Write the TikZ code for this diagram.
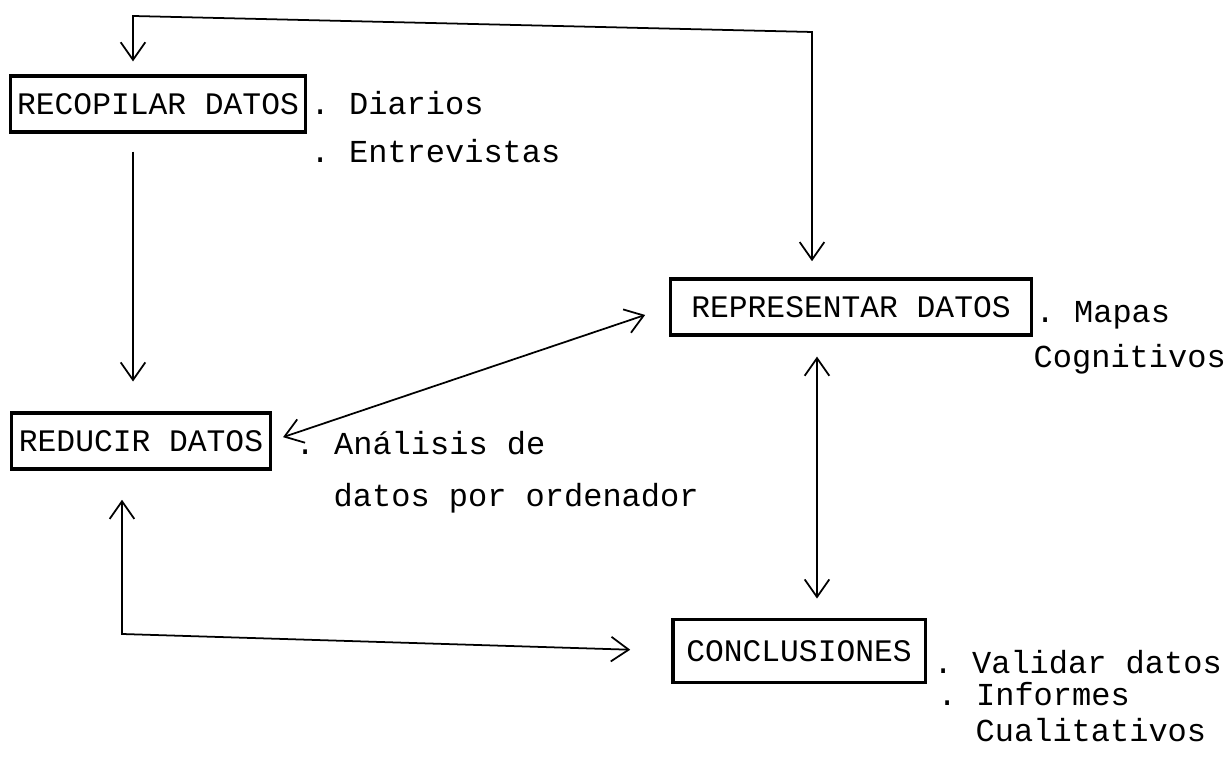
\documentclass[tikz,border=0pt]{standalone}
\usepackage{fontspec}
\setmonofont{Liberation Mono}
\usetikzlibrary{arrows.meta}

\tikzset{
    etapa/.style={draw, line width=0.9pt, inner xsep=2pt, minimum height=0.56cm,
        font=\ttfamily\fontsize{8.9}{10}\selectfont},
    nota/.style={anchor=base west, inner sep=0pt,
        font=\ttfamily\fontsize{9.1}{11}\selectfont},
    flecha/.style={line width=0.5pt, {Straight Barb[length=5pt,width=7pt]}-{Straight Barb[length=5pt,width=7pt]}}
}

\begin{document}
\begin{tikzpicture}[x=0.01cm, y=-0.01cm]
    \useasboundingbox[fill=white] (0,0) rectangle (1228,765);

    % etapas
    \node[etapa] (recop)  at (158,104) {RECOPILAR DATOS};
    \node[etapa] (reduc)  at (141,441) {REDUCIR DATOS};
    \node[etapa, minimum width=3.61cm] (repres) at (851,307) {REPRESENTAR DATOS};
    \node[etapa, minimum width=2.52cm, minimum height=0.63cm] (concl) at (799,651) {CONCLUSIONES};

    % notas
    \node[nota] (diarios)  at (310,115) {. Diarios};
    \node[nota] (entrev)   at (310,163) {. Entrevistas};
    \node[nota] (analisis) at (295,455) {. Análisis de};
    \node[nota] (ordena)   at (333,507) {datos por ordenador};
    \node[nota] (mapas)    at (1035,323) {. Mapas};
    \node[nota] (cognit)   at (1033,368) {Cognitivos};
    \node[nota] (validar)  at (933,674) {. Validar datos};
    \node[nota] (informes) at (937,706) {. Informes};
    \node[nota] (cualit)   at (975,742) {Cualitativos};

    % conexiones
    \coordinate (tl) at (133,16);
    \coordinate (tr) at (812,32);
    \coordinate (bl) at (122,634);
    \draw[flecha, shorten <=3.7pt, shorten >=4.6pt]
        (recop.north -| tl) -- (tl) -- (tr) -- (repres.north -| tr);
    \draw[flecha, -{Straight Barb[length=5pt,width=7pt]}, shorten <=5.1pt, shorten >=8.5pt]
        (recop.south -| tl) -- (reduc.north -| tl);
    \draw[flecha, shorten <=3.4pt, shorten >=7.1pt] (reduc.east) -- (repres.west);
    \draw[flecha, shorten <=5.7pt, shorten >=5.5pt]
        ([xshift=-0.34cm]repres.south) -- ([xshift=-0.34cm]repres.south |- concl.north);
    \draw[flecha, shorten <=8.3pt, shorten >=11.7pt]
        (reduc.south -| bl) -- (bl) -- (concl.west);
\end{tikzpicture}
\end{document}
